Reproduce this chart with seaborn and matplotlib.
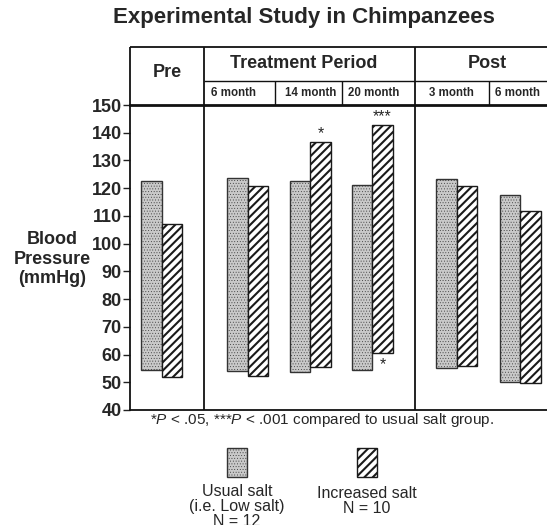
import numpy as np
import pandas as pd
import matplotlib
matplotlib.use("Agg")
import matplotlib.pyplot as plt
from matplotlib.patches import Rectangle
import seaborn as sns

# ---------------- data ----------------
periods = ["Pre", "6 month", "14 month", "20 month", "3 month", "6 month"]
usual_high = [122.5, 123.5, 122.7, 121.3, 123.4, 117.4]
usual_low = [54.5, 54.0, 53.6, 54.5, 55.2, 50.0]
incr_high = [107.2, 120.7, 136.6, 142.8, 120.7, 111.6]
incr_low = [51.8, 52.4, 55.4, 60.5, 55.7, 49.8]
sig_top = ["", "", "*", "***", "", ""]
sig_bottom = ["", "", "", "*", "", ""]
yticks = [40, 50, 60, 70, 80, 90, 100, 110, 120, 130, 140, 150]
group_labels = ["Pre", "Treatment Period", "Post"]
sub_labels = ["6 month", "14 month", "20 month", "3 month", "6 month"]
legend_labels = ["Usual salt\n(i.e. Low salt)\nN = 12", "Increased salt\nN = 10"]

# ---------------- layout (pixel-like x units) ----------------
W, H = 547, 525
centers = [161.7, 247.7, 310.3, 372.3, 457.0, 520.3]
bar_w = 20.5
x_lo, x_hi = 130, 547
major_div = [130, 204, 415, 560]
major_text_x = [167, 304, 487]
sub_div = [204, 275, 342, 415, 489, 560]
sub_text_x = [234, 311, 374, 451, 518]
y_row = 158.65
y_top = 170.9

sns.set_theme(style="white")
plt.rcParams["font.family"] = ["Liberation Sans", "DejaVu Sans"]
plt.rcParams["mathtext.fontset"] = "custom"
plt.rcParams["mathtext.rm"] = "Liberation Sans"
plt.rcParams["mathtext.it"] = "Liberation Sans:italic"
plt.rcParams["hatch.linewidth"] = 1.5

fig = plt.figure(figsize=(W / 100, H / 100), dpi=100)
ax = fig.add_axes([x_lo / W, (H - 410) / H, (x_hi - x_lo) / W, (410 - 105) / H])

usual_df = pd.DataFrame({"x": [c - bar_w / 2 for c in centers],
                         "h": np.array(usual_high) - np.array(usual_low)})
incr_df = pd.DataFrame({"x": [c + bar_w / 2 for c in centers],
                        "h": np.array(incr_high) - np.array(incr_low)})
native = np.min(np.diff(np.sort(usual_df["x"])))

stip_color, diag_color = "#c9c9c9", "white"
stip = dict(edgecolor="#333333", hatch="......", linewidth=1.0)
diag = dict(edgecolor="#1a1a1a", hatch="////", linewidth=1.0)


def thin_hatch(p):
    try:
        p.set_hatch_linewidth(0.3)
    except Exception:
        pass


sns.barplot(data=usual_df, x="x", y="h", native_scale=True, errorbar=None, color=stip_color,
            width=bar_w / native, bottom=usual_low, saturation=1, ax=ax, **stip)
for p in ax.patches:
    thin_hatch(p)
sns.barplot(data=incr_df, x="x", y="h", native_scale=True, errorbar=None, color=diag_color,
            width=bar_w / native, bottom=incr_low, saturation=1, ax=ax, **diag)

for c, s, top in zip(centers, sig_top, incr_high):
    if s:
        ax.text(c + bar_w / 2, top + 0.3, s, ha="center", va="bottom", fontsize=11.5)
for c, s, low in zip(centers, sig_bottom, incr_low):
    if s:
        ax.text(c + bar_w / 2, low - 1.6, s, ha="center", va="top", fontsize=11.5)

ax.set_xlim(x_lo, x_hi)
ax.set_ylim(40, 150)
ax.set_yticks(yticks)
ax.set_yticklabels([str(t) for t in yticks], fontsize=13, fontweight="bold")
ax.set_xticks([])
ax.set_xlabel("")
ax.set_ylabel("")
ax.tick_params(axis="y", left=True, length=5, width=1, pad=1, color="#222")
ax.spines["right"].set_visible(False)
ax.spines["left"].set_linewidth(1.3)
ax.spines["bottom"].set_linewidth(1.3)
ax.spines["top"].set_linewidth(2.0)
for sp in ax.spines.values():
    sp.set_color("#111")

lk = dict(color="#111", clip_on=False, solid_capstyle="butt")
# header frame
ax.plot([x_lo, x_lo], [150, y_top], lw=1.3, **lk)
ax.plot([x_lo, 560], [y_top, y_top], lw=1.3, **lk)
ax.plot([sub_div[0], 560], [y_row, y_row], lw=1.0, **lk)
for xd in major_div[1:3]:
    ax.plot([xd, xd], [40, y_top], lw=1.3, **lk)
for xd in [275, 342, 489]:
    ax.plot([xd, xd], [150, y_row], lw=1.0, **lk)
for xt, lab in zip(major_text_x, group_labels):
    yy = 161.9 if lab == "Pre" else 164.8
    ax.text(xt, yy, lab, ha="center", va="center", fontsize=13, fontweight="bold", clip_on=False)
for xt, lab in zip(sub_text_x, sub_labels):
    ax.text(xt, 154.4, lab, ha="center", va="center", fontsize=8.3, fontweight="bold", clip_on=False)

fig.text(304 / W, 1 - 18 / H, "Experimental Study in Chimpanzees", ha="center", va="center",
         fontsize=16, fontweight="bold")
fig.text(52 / W, 1 - 259 / H, "Blood\nPressure\n(mmHg)", ha="center", va="center",
         fontsize=13, fontweight="bold", linespacing=1.22, multialignment="center")
fig.text(322 / W, 1 - 420 / H,
         r"*$\mathit{P}$ < .05, ***$\mathit{P}$ < .001 compared to usual salt group.",
         ha="center", va="center", fontsize=11)

# legend
for (bx, fc, style, lab, ty) in [(227, stip_color, stip, legend_labels[0], 492),
                                 (357, diag_color, diag, legend_labels[1], 494)]:
    r = Rectangle((bx / W, 1 - 477 / H), 20 / W, 29 / H, transform=fig.transFigure,
                  facecolor=fc, **style)
    if style is stip:
        thin_hatch(r)
    fig.add_artist(r)
    fig.text((bx + 10) / W, 1 - (ty - 8) / H, lab, ha="center", va="top", fontsize=11.5,
             linespacing=1.02, multialignment="center")

fig.savefig("out.png", dpi=100)
